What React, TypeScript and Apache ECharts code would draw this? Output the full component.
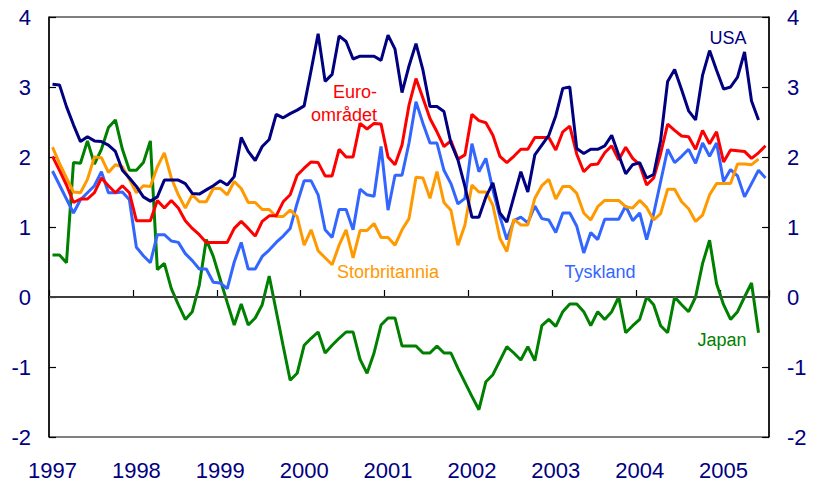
import React, { useEffect, useRef } from "react";
import * as echarts from "echarts";

const years = [1997, 1998, 1999, 2000, 2001, 2002, 2003, 2004, 2005];
const monthCodes = ["01", "02", "03", "04", "05", "06", "07", "08", "09", "10", "11", "12"];
const categories = years.flatMap((y) => monthCodes.map((m) => `${y}-${m}`)).slice(0, 103);

const usa = [
  3.04, 3.03, 2.72, 2.46, 2.22, 2.29, 2.23, 2.22, 2.17, 2.08, 1.81, 1.7,
  1.58, 1.43, 1.37, 1.43, 1.67, 1.67, 1.67, 1.62, 1.48, 1.47, 1.53, 1.59,
  1.66, 1.6, 1.72, 2.28, 2.08, 1.95, 2.15, 2.25, 2.61, 2.56, 2.62, 2.67,
  2.73, 3.24, 3.76, 3.08, 3.18, 3.73, 3.65, 3.4, 3.44, 3.44, 3.44, 3.38,
  3.74, 3.54, 2.92, 3.3, 3.62, 3.24, 2.72, 2.72, 2.65, 2.2, 1.96, 1.58,
  1.14, 1.14, 1.43, 1.63, 1.2, 1.07, 1.43, 1.79, 1.5, 2.03, 2.17, 2.31,
  2.59, 2.98, 3.0, 2.12, 2.05, 2.11, 2.11, 2.16, 2.31, 2.03, 1.76, 1.89,
  1.92, 1.7, 1.75, 2.24, 3.08, 3.25, 2.96, 2.66, 2.53, 3.17, 3.52, 3.24,
  2.97, 3.0, 3.14, 3.5, 2.8, 2.53,
];

const euro = [
  2.01, 1.81, 1.6, 1.35, 1.4, 1.4, 1.49, 1.7, 1.59, 1.49, 1.59, 1.49,
  1.09, 1.09, 1.09, 1.38, 1.27, 1.38, 1.27, 1.09, 0.98, 0.89, 0.78, 0.78,
  0.78, 0.78, 0.98, 1.08, 0.98, 0.87, 1.08, 1.16, 1.16, 1.36, 1.46, 1.74,
  1.84, 1.93, 1.92, 1.73, 1.73, 2.11, 2.0, 2.0, 2.48, 2.4, 2.48, 2.47,
  2.0, 1.89, 2.17, 2.74, 3.12, 2.84, 2.55, 2.36, 2.15, 2.23, 1.97, 2.03,
  2.61, 2.52, 2.49, 2.31, 2.01, 1.92, 2.01, 2.11, 2.11, 2.28, 2.28, 2.28,
  2.1, 2.36, 2.44, 2.04, 1.79, 1.89, 1.9, 2.06, 2.16, 1.96, 2.14, 1.98,
  1.89, 1.6, 1.7, 2.05, 2.47, 2.38, 2.3, 2.29, 2.11, 2.38, 2.19, 2.36,
  1.93, 2.1, 2.09, 2.08, 1.98, 2.06, 2.16,
];

const uk = [
  2.14, 1.91, 1.7, 1.5, 1.49, 1.68, 2.0, 1.99, 1.78, 1.89, 1.86, 1.68,
  1.49, 1.59, 1.58, 1.86, 2.06, 1.7, 1.46, 1.27, 1.46, 1.36, 1.36, 1.55,
  1.55, 1.46, 1.65, 1.55, 1.35, 1.35, 1.25, 1.25, 1.15, 1.15, 1.24, 1.15,
  0.74, 0.96, 0.66, 0.56, 0.46, 0.74, 0.96, 0.56, 0.95, 0.95, 1.05, 0.85,
  0.85, 0.74, 0.96, 1.12, 1.71, 1.7, 1.41, 1.79, 1.35, 1.24, 0.74, 1.03,
  1.6, 1.5, 1.5, 1.31, 0.84, 0.65, 1.11, 1.03, 1.03, 1.41, 1.59, 1.68,
  1.4, 1.58, 1.58, 1.48, 1.2, 1.1, 1.29, 1.38, 1.38, 1.38, 1.29, 1.27,
  1.38, 1.28, 1.1, 1.19, 1.54, 1.54, 1.36, 1.26, 1.08, 1.17, 1.46, 1.62,
  1.62, 1.62, 1.9, 1.9, 1.89, 1.97,
];

const germany = [
  1.8, 1.6, 1.4, 1.2, 1.39, 1.49, 1.59, 1.79, 1.49, 1.49, 1.5, 1.39,
  0.71, 0.59, 0.49, 0.89, 0.89, 0.8, 0.78, 0.62, 0.52, 0.4, 0.4, 0.21,
  0.2, 0.12, 0.5, 0.78, 0.4, 0.4, 0.58, 0.67, 0.78, 0.87, 0.98, 1.34,
  1.66, 1.66, 1.46, 0.96, 0.85, 1.25, 1.25, 0.96, 1.54, 1.46, 1.44, 2.15,
  1.24, 1.74, 1.74, 2.2, 2.79, 2.48, 2.2, 2.2, 1.81, 1.62, 1.33, 1.41,
  2.19, 1.79, 1.98, 1.53, 1.15, 0.82, 1.09, 1.14, 1.06, 1.3, 1.12, 1.1,
  0.92, 1.2, 1.2, 1.01, 0.63, 0.92, 0.82, 1.11, 1.11, 1.11, 1.3, 1.09,
  1.2, 0.82, 1.19, 1.65, 2.11, 1.92, 2.01, 2.11, 1.91, 2.2, 2.01, 2.2,
  1.65, 1.82, 1.73, 1.43, 1.62, 1.81, 1.7,
];

const japan = [
  0.6, 0.6, 0.49, 1.92, 1.91, 2.23, 1.9, 2.11, 2.42, 2.53, 2.11, 1.81,
  1.81, 1.92, 2.23, 0.39, 0.48, 0.12, -0.11, -0.32, -0.21, 0.17, 0.82, 0.58,
  0.25, -0.08, -0.4, -0.1, -0.4, -0.3, -0.11, 0.3, -0.2, -0.7, -1.19, -1.09,
  -0.69, -0.59, -0.5, -0.8, -0.69, -0.59, -0.5, -0.5, -0.89, -1.09, -0.8, -0.4,
  -0.3, -0.3, -0.7, -0.7, -0.7, -0.8, -0.8, -0.7, -0.8, -0.8, -1.02, -1.22,
  -1.42, -1.61, -1.21, -1.11, -0.91, -0.71, -0.8, -0.9, -0.71, -0.91, -0.41, -0.32,
  -0.42, -0.21, -0.1, -0.1, -0.21, -0.41, -0.21, -0.32, -0.21, 0.0, -0.51, -0.41,
  -0.32, 0.0, -0.11, -0.41, -0.51, 0.0, -0.11, -0.21, 0.0, 0.48, 0.81, 0.19,
  -0.11, -0.32, -0.21, 0.0, 0.2, -0.51,
];

const FONT = '"Liberation Sans", Arial, sans-serif';
const NAVY = "#000080";
const RED = "#ff0000";
const ORANGE = "#ff9900";
const BLUE = "#3366ff";
const GREEN = "#008000";

export default function App() {
  const ref = useRef<HTMLDivElement>(null);

  useEffect(() => {
    document.body.style.margin = "0";
    if (!ref.current) return;
    const chart = echarts.init(ref.current, undefined, { renderer: "svg" });

    const yAxisBase = {
      type: "value" as const,
      min: -2,
      max: 4,
      interval: 1,
      splitLine: { show: false },
      axisLine: { show: true, lineStyle: { color: "#000", width: 1.5 } },
      axisTick: { show: true, inside: true, length: 7, lineStyle: { color: "#000", width: 1.2 } },
    };

    const line = (name: string, data: number[], color: string, extra: any = {}) => ({
      name,
      type: "line",
      data,
      showSymbol: false,
      symbol: "none",
      lineStyle: { color, width: 3 },
      itemStyle: { color },
      ...extra,
    });

    chart.setOption({
      animation: false,
      textStyle: { fontFamily: FONT },
      grid: {
        left: 49,
        right: 44,
        top: 17,
        bottom: 52,
        show: true,
        borderColor: "#000",
        borderWidth: 1,
        containLabel: false,
      },
      xAxis: {
        type: "category",
        data: categories,
        boundaryGap: true,
        axisLine: { show: true, lineStyle: { color: "#000", width: 2 } },
        axisTick: {
          show: true,
          inside: true,
          length: 7,
          interval: (i: number) => i % 12 === 0,
          lineStyle: { color: "#000", width: 1.2 },
        },
        axisLabel: {
          interval: (i: number) => i % 12 === 0,
          formatter: (v: string) => v.slice(0, 4),
          color: NAVY,
          fontSize: 22,
          fontFamily: FONT,
          margin: 22,
        },
        splitLine: { show: false },
      },
      yAxis: [
        {
          ...yAxisBase,
          position: "left",
          axisLabel: { color: NAVY, fontSize: 22, fontFamily: FONT, margin: 18 },
        },
        {
          ...yAxisBase,
          position: "right",
          axisLabel: { color: NAVY, fontSize: 22, fontFamily: FONT, margin: 18 },
        },
      ],
      series: [
        line("Japan", japan, GREEN, {
          markLine: {
            silent: true,
            symbol: ["none", "none"],
            label: { show: false },
            lineStyle: { color: "#555", width: 1.5, type: "solid" },
            data: [{ yAxis: 0 }],
          },
        }),
        line("Tyskland", germany, BLUE),
        line("Storbritannia", uk, ORANGE),
        line("Euroområdet", euro, RED),
        line("USA", usa, NAVY),
      ],
      graphic: [
        { type: "text", x: 728, y: 38, style: { text: "USA", fill: NAVY, font: `18px ${FONT}`, textAlign: "center", textVerticalAlign: "middle" } },
        { type: "text", x: 377, y: 92, style: { text: "Euro-", fill: RED, font: `18px ${FONT}`, textAlign: "right", textVerticalAlign: "middle" } },
        { type: "text", x: 377, y: 115, style: { text: "området", fill: RED, font: `18px ${FONT}`, textAlign: "right", textVerticalAlign: "middle" } },
        { type: "text", x: 388, y: 272, style: { text: "Storbritannia", fill: ORANGE, font: `18px ${FONT}`, textAlign: "center", textVerticalAlign: "middle" } },
        { type: "text", x: 600, y: 272, style: { text: "Tyskland", fill: BLUE, font: `18px ${FONT}`, textAlign: "center", textVerticalAlign: "middle" } },
        { type: "text", x: 722, y: 340, style: { text: "Japan", fill: GREEN, font: `18px ${FONT}`, textAlign: "center", textVerticalAlign: "middle" } },
      ],
    });

    return () => chart.dispose();
  }, []);

  return <div ref={ref} style={{ width: 813, height: 489 }} />;
}
